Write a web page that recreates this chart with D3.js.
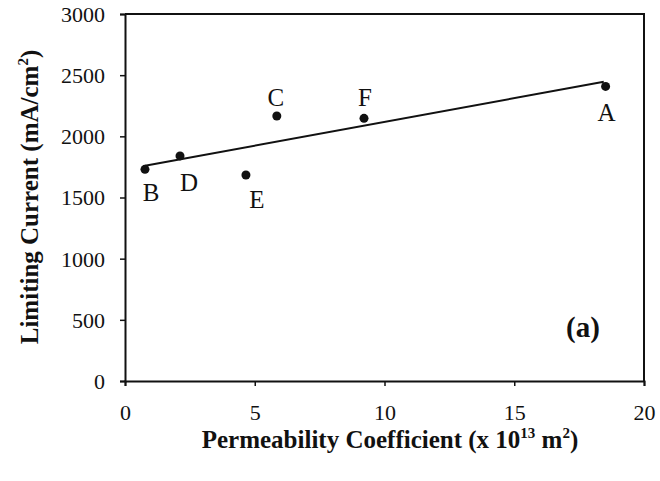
<!DOCTYPE html>
<html>
<head>
<meta charset="utf-8">
<script src="https://cdn.jsdelivr.net/npm/d3@7"></script>
<style>
  html, body { margin: 0; padding: 0; background: #fff; }
  svg { display: block; }
  text { font-family: "Liberation Serif", "Times New Roman", serif; fill: #111; }
</style>
</head>
<body>
<svg id="chart" width="660" height="481"></svg>
<script>
// Membrane samples: permeability coefficient (x 10^13 m^2) vs limiting current (mA/cm^2)
const samples = ["A", "B", "C", "D", "E", "F"];
const permeability = [18.52, 0.77, 5.85, 2.12, 4.66, 9.21];
const limitingCurrent = [2408, 1730, 2166, 1840, 1684, 2147];

const xTicks = [0, 5, 10, 15, 20];
const yTicks = [0, 500, 1000, 1500, 2000, 2500, 3000];

// Where each point label sits relative to its marker (px)
const labelOffset = {
  A: [1, 26], B: [6, 23], C: [-1, -18], D: [9, 27], E: [11, 25], F: [1, -21]
};

const svg = d3.select("#chart");
const margin = { left: 125, right: 16, top: 14, bottom: 100 };
const W = 660, H = 481;

const x = d3.scaleLinear().domain([0, 20]).range([margin.left, W - margin.right]);
const y = d3.scaleLinear().domain([0, 3000]).range([H - margin.bottom, margin.top]);

const ink = "#111";

// Frame: top and right edges
svg.append("path")
  .attr("d", `M${x(0)},${y(3000)}H${x(20)}V${y(0)}`)
  .attr("fill", "none").attr("stroke", ink).attr("stroke-width", 2);

// Axes
const xAxis = svg.append("g")
  .attr("transform", `translate(0,${y(0)})`)
  .call(d3.axisBottom(x).tickValues(xTicks).tickSize(5).tickPadding(18).tickFormat(d3.format("d")));
const yAxis = svg.append("g")
  .attr("transform", `translate(${x(0)},0)`)
  .call(d3.axisLeft(y).tickValues(yTicks).tickSize(5).tickPadding(15).tickFormat(d3.format("d")));

[xAxis, yAxis].forEach(g => {
  g.select(".domain").attr("stroke", ink).attr("stroke-width", 2);
  g.selectAll(".tick line").attr("stroke", ink).attr("stroke-width", 1.5);
  g.selectAll(".tick text")
    .attr("fill", ink)
    .style("font-family", '"Liberation Serif", serif')
    .style("font-size", "22px");
});
yAxis.selectAll(".tick text").attr("dy", "0.34em");

// Least-squares fit through the six samples
const pts = samples.map((s, i) => ({ s, px: permeability[i], lc: limitingCurrent[i] }));
const mx = d3.mean(pts, d => d.px), my = d3.mean(pts, d => d.lc);
const slope = d3.sum(pts, d => (d.px - mx) * (d.lc - my)) / d3.sum(pts, d => (d.px - mx) ** 2);
const intercept = my - slope * mx;
const [xMin, xMax] = d3.extent(permeability);
const fitLine = d3.line().x(d => x(d)).y(d => y(intercept + slope * d));
svg.append("path")
  .datum([xMin, xMax - 0.07])
  .attr("d", fitLine)
  .attr("fill", "none").attr("stroke", ink).attr("stroke-width", 2);

// Markers
svg.append("g").selectAll("circle")
  .data(pts).join("circle")
  .attr("cx", d => x(d.px)).attr("cy", d => y(d.lc))
  .attr("r", 4.5).attr("fill", ink);

// Point labels
svg.append("g").selectAll("text")
  .data(pts).join("text")
  .attr("x", d => x(d.px) + labelOffset[d.s][0])
  .attr("y", d => y(d.lc) + labelOffset[d.s][1])
  .attr("text-anchor", "middle")
  .attr("dy", "0.33em")
  .style("font-size", "25px")
  .text(d => d.s);

// Panel tag
svg.append("text")
  .attr("x", 583).attr("y", 337)
  .attr("text-anchor", "middle")
  .style("font-size", "29px").style("font-weight", "bold")
  .text("(a)");

// Axis titles
const xt = svg.append("text")
  .attr("x", 390).attr("y", 448)
  .attr("text-anchor", "middle")
  .style("font-size", "25px").style("font-weight", "bold");
xt.append("tspan").text("Permeability Coefficient (x 10");
xt.append("tspan").attr("dy", -10).style("font-size", "15px").text("13");
xt.append("tspan").attr("dy", 10).text(" m");
xt.append("tspan").attr("dy", -10).style("font-size", "15px").text("2");
xt.append("tspan").attr("dy", 10).text(")");

const yt = svg.append("text")
  .attr("transform", "translate(38,197) rotate(-90)")
  .attr("text-anchor", "middle")
  .style("font-size", "25px").style("font-weight", "bold");
yt.append("tspan").text("Limiting Current (mA/cm");
yt.append("tspan").attr("dy", -10).style("font-size", "15px").text("2");
yt.append("tspan").attr("dy", 10).text(")");
</script>
</body>
</html>
